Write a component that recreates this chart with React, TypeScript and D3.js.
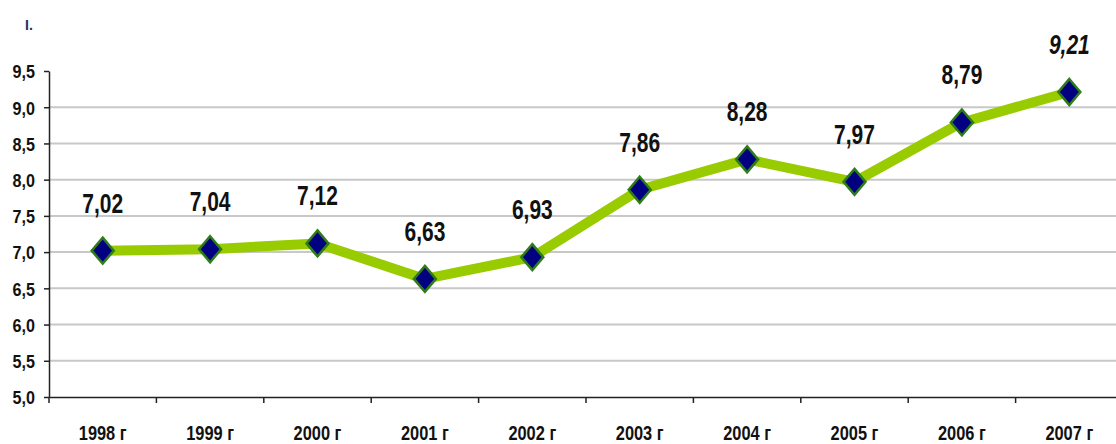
import React, { useEffect, useRef } from "react";
import * as d3 from "d3";

const years = ["1998 г", "1999 г", "2000 г", "2001 г", "2002 г", "2003 г", "2004 г", "2005 г", "2006 г", "2007 г"];
const values = [7.02, 7.04, 7.12, 6.63, 6.93, 7.86, 8.28, 7.97, 8.79, 9.21];
const yTicks = [5.0, 5.5, 6.0, 6.5, 7.0, 7.5, 8.0, 8.5, 9.0, 9.5];

const FONT = "'Liberation Sans', Arial, sans-serif";
const fmt = (v: number, d: number) => v.toFixed(d).replace(".", ",");

const App = () => {
    const ref = useRef<SVGSVGElement>(null);

    useEffect(() => {
        const svg = d3.select(ref.current);
        svg.selectAll("*").remove();

        const left = 49, top = 71, bottom = 397;
        const right = 49 + 107.4 * 10;

        const x = d3.scaleBand().domain(years).range([left, right]);
        const y = d3.scaleLinear().domain([5, 9.5]).range([bottom, top]);

        svg.append("text")
            .attr("x", 25).attr("y", 30)
            .attr("font-family", FONT).attr("font-size", 14).attr("font-weight", "bold")
            .attr("fill", "#1f2f6a")
            .text("I.");

        // grid
        svg.append("g").selectAll("line")
            .data(yTicks.filter(t => t > 5 && t < 9.5))
            .enter().append("line")
            .attr("x1", left).attr("x2", 1116)
            .attr("y1", d => y(d)).attr("y2", d => y(d))
            .attr("stroke", "#c8c8c8").attr("stroke-width", 2);

        // y axis
        const yAxis = svg.append("g")
            .attr("transform", `translate(${left},0)`)
            .call(d3.axisLeft(y).tickValues(yTicks).tickSize(5).tickSizeOuter(0).tickFormat(d => fmt(+d, 1)));
        yAxis.select(".domain").attr("stroke", "#222").attr("stroke-width", 1.5);
        yAxis.selectAll(".tick line").attr("stroke", "#222").attr("stroke-width", 1.5);
        yAxis.selectAll("text")
            .attr("x", -14 / 0.85).attr("dy", "0.36em")
            .attr("transform", "scale(0.85,1)")
            .attr("font-family", FONT).attr("font-size", 19).attr("font-weight", "bold").attr("fill", "#111");

        // x axis
        const xAxis = svg.append("g")
            .attr("transform", `translate(0,${bottom})`)
            .call(d3.axisBottom(x).tickSize(0).tickSizeOuter(0));
        xAxis.select(".domain").attr("stroke", "#222").attr("stroke-width", 1.5);
        xAxis.selectAll("text")
            .attr("y", 43).attr("dy", 0)
            .attr("transform", "scale(0.78,1)")
            .attr("font-family", FONT).attr("font-size", 21).attr("font-weight", "bold").attr("fill", "#111");
        xAxis.selectAll(".bnd")
            .data(years)
            .enter().append("line")
            .attr("x1", d => x(d)!).attr("x2", d => x(d)!)
            .attr("y1", 0).attr("y2", 6)
            .attr("stroke", "#222").attr("stroke-width", 1.5);

        const cx = (i: number) => x(years[i])! + x.bandwidth() / 2;

        const line = d3.line<number>().x((d, i) => cx(i)).y(d => y(d));
        svg.append("path")
            .datum(values)
            .attr("d", line)
            .attr("fill", "none")
            .attr("stroke", "#99cc00")
            .attr("stroke-width", 10)
            .attr("stroke-linejoin", "round");

        const diamond = "M0,-13L11,0L0,13L-11,0Z";
        svg.append("g").selectAll("path")
            .data(values)
            .enter().append("path")
            .attr("d", diamond)
            .attr("transform", (d, i) => `translate(${cx(i)},${y(d)})`)
            .attr("fill", "#000080")
            .attr("stroke", "#2f7d1a")
            .attr("stroke-width", 2.5);

        // data labels, condensed
        svg.append("g").selectAll("text")
            .data(values)
            .enter().append("text")
            .attr("transform", (d, i) => `translate(${cx(i)},${y(d) - 38}) scale(0.75,1)`)
            .attr("text-anchor", "middle")
            .attr("font-family", FONT).attr("font-size", 28).attr("font-weight", "bold")
            .attr("font-style", (d, i) => (i === values.length - 1 ? "italic" : "normal"))
            .attr("fill", "#111")
            .text(d => fmt(d, 2));
    }, []);

    return (
        <svg ref={ref} width={1116} height={444}
             style={{ position: "absolute", left: 0, top: 0, background: "#fff" }} />
    );
};

export default App;
